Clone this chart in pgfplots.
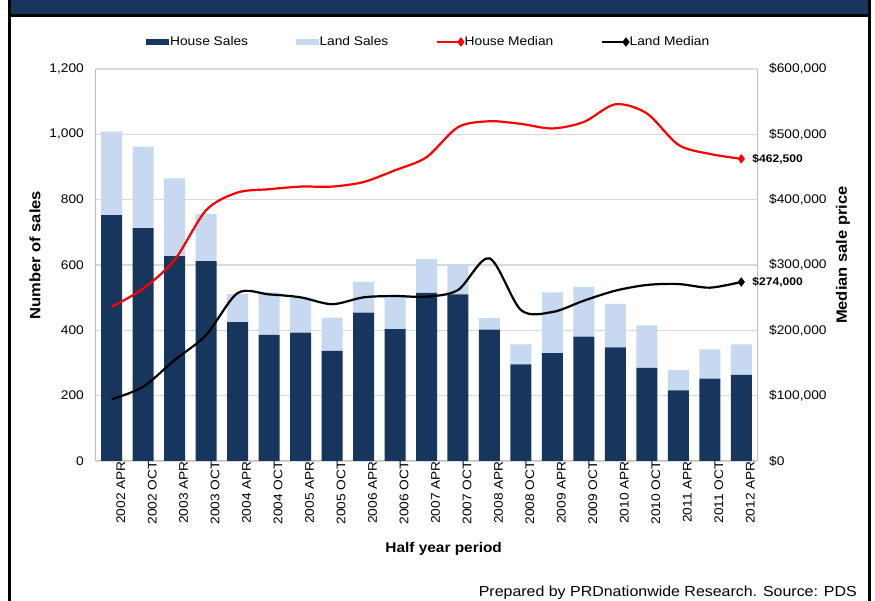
\documentclass[border=0pt]{standalone}
\usepackage{fontspec}
\setmainfont{Liberation Sans}[FakeStretch=1.1]
\usepackage{pgfplots}
\pgfplotsset{compat=1.18}
\definecolor{navy}{RGB}{23,54,93}
\definecolor{lightb}{RGB}{198,217,241}
\definecolor{gridc}{RGB}{217,217,217}
\definecolor{axc}{RGB}{191,191,191}
\newcommand{\tickfont}{\fontsize{12.5}{14}\selectfont}
\begin{document}
\begin{tikzpicture}
\path[use as bounding box, fill=white] (0pt,0pt) rectangle (875pt,601pt);
\fill[navy] (9.5pt,586pt) rectangle (869.5pt,601pt);
\draw[line width=3pt] (9.5pt,0pt) -- (9.5pt,601pt);
\draw[line width=3pt] (869.5pt,0pt) -- (869.5pt,601pt);
\draw[line width=3pt] (9.5pt,585.5pt) -- (869.5pt,585.5pt);

\begin{axis}[
  at={(96pt,140pt)}, anchor=south west, scale only axis,
  width=661pt, height=392pt,
  ybar stacked, bar width=21pt,
  xmin=-0.5, xmax=20.5, ymin=0, ymax=1200,
  ytick={0,200,...,1200},
  xtick={0,...,20},
  xticklabels={2002 APR,2002 OCT,2003 APR,2003 OCT,2004 APR,2004 OCT,2005 APR,2005 OCT,2006 APR,2006 OCT,2007 APR,2007 OCT,2008 APR,2008 OCT,2009 APR,2009 OCT,2010 APR,2010 OCT,2011 APR,2011 OCT,2012 APR},
  axis y line*=left, axis x line*=bottom,
  axis line style={axc, line width=1pt},
  major tick length=0pt,
  ymajorgrids, major grid style={gridc, line width=1.2pt},
  /pgf/number format/assume math mode=true,
  yticklabel style={font=\tickfont, inner sep=0pt, xshift=-12pt, /pgf/number format/1000 sep={,}},
  xticklabel style={font=\tickfont, rotate=90, anchor=east, inner sep=0pt, yshift=-9pt},
  ylabel={Number of sales},
  ylabel style={font=\bfseries\fontsize{15}{17}\selectfont, at={(axis description cs:-0.0923,0.525)}, anchor=center},
  xlabel={Half year period},
  xlabel style={font=\bfseries\fontsize{14}{16}\selectfont, at={(axis description cs:0.526,-0.2245)}, anchor=center},
]
\addplot[fill=navy, draw=none] coordinates {
(0,753) (1,713) (2,627) (3,612) (4,425) (5,386) (6,393) (7,337) (8,454) (9,404) (10,515)
(11,510) (12,402) (13,296) (14,330) (15,381) (16,348) (17,285) (18,216) (19,252) (20,264)};
\addplot[fill=lightb, draw=none] coordinates {
(0,255) (1,249) (2,238) (3,144) (4,86) (5,130) (6,107) (7,102) (8,94) (9,99) (10,103)
(11,93) (12,35) (13,61) (14,186) (15,152) (16,133) (17,130) (18,62) (19,90) (20,93)};
\end{axis}

\begin{axis}[
  at={(96pt,140pt)}, anchor=south west, scale only axis,
  width=661pt, height=392pt,
  clip=false,
  xmin=-0.5, xmax=20.5, ymin=0, ymax=600000,
  ytick={0,100000,...,600000},
  axis y line*=right, axis x line=none,
  axis line style={axc, line width=1pt},
  major tick length=0pt,
  scaled y ticks=false,
  /pgf/number format/assume math mode=true,
  yticklabel={\$\pgfmathprintnumber[fixed,precision=0,1000 sep={,}]{\tick}},
  yticklabel style={font=\tickfont, inner sep=0pt, anchor=west, xshift=12pt},
  ylabel={Median sale price},
  ylabel style={font=\bfseries\fontsize{15}{17}\selectfont, at={(axis description cs:1.13,0.525)}, anchor=center, rotate=0},
  legend columns=4,
  legend style={draw=none, fill=none, at={(axis description cs:0.503,1.0689)}, anchor=center,
    font=\fontsize{12.5}{14}\selectfont,
    nodes={inner sep=1.5pt},
    /tikz/every even column/.append style={column sep=46pt}},
]
\addlegendimage{legend image code/.code={\fill[navy] (0pt,-2.5pt) rectangle (22pt,2.5pt);}}
\addlegendentry{House Sales}
\addlegendimage{legend image code/.code={\fill[lightb] (0pt,-2.5pt) rectangle (22pt,2.5pt);}}
\addlegendentry{Land Sales}
\addplot[red, line width=2.2pt, smooth, mark=diamond*, mark size=3pt, mark indices={21},
  legend image code/.code={\draw[red, line width=2.2pt, mark=diamond*, mark size=3pt, mark indices={2}] plot coordinates {(0pt,0pt) (24pt,0pt)};}]
coordinates {
(0,236000) (1,264000) (2,308000) (3,384000) (4,411000) (5,416000) (6,420000) (7,420000)
(8,427000) (9,445000) (10,465000) (11,511000) (12,520000) (13,516000) (14,509000)
(15,519000) (16,546000) (17,532000) (18,484000) (19,470000) (20,462500)};
\addlegendentry{House Median}
\addplot[black, line width=2.2pt, smooth, mark=diamond*, mark size=3pt, mark indices={21},
  legend image code/.code={\draw[black, line width=2.2pt, mark=diamond*, mark size=3pt, mark indices={2}] plot coordinates {(0pt,0pt) (24pt,0pt)};}]
coordinates {
(0,94400) (1,113700) (2,154600) (3,192900) (4,257000) (5,255000) (6,250500) (7,240000)
(8,250500) (9,252500) (10,251500) (11,261700) (12,310200) (13,231100) (14,228000)
(15,245400) (16,260700) (17,269400) (18,270900) (19,265300) (20,274000)};
\addlegendentry{Land Median}
\node[anchor=west, font=\bfseries\fontsize{11}{13}\selectfont, inner sep=0pt, xshift=11pt] at (axis cs:20,462500) {\$462,500};
\node[anchor=west, font=\bfseries\fontsize{11}{13}\selectfont, inner sep=0pt, xshift=11pt] at (axis cs:20,274000) {\$274,000};
\end{axis}

\node[anchor=base east, font=\fontsize{14.5}{16}\selectfont, inner sep=0pt] at (857pt,4pt) {Prepared by PRDnationwide Research. Source: PDS};
\end{tikzpicture}
\end{document}
